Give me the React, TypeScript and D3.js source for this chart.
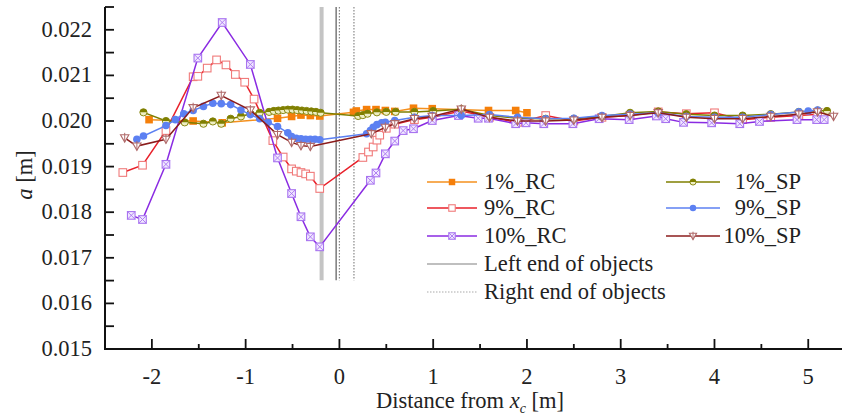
import * as d3 from 'd3';

// ---- data ----
const rc1X = [-2.03, -1.56, -1.25, -0.66, -0.51, -0.41, -0.31, -0.21, 0.15, 0.18, 0.29, 0.39, 0.49, 0.59, 0.79, 0.99, 1.59, 1.88, 2.0];
const rc1Y = [0.02003, 0.02, 0.01996, 0.02006, 0.0201, 0.02013, 0.02012, 0.02011, 0.02019, 0.02022, 0.02025, 0.02025, 0.02023, 0.02021, 0.02028, 0.02027, 0.02023, 0.02023, 0.02018];

const rc9X = [-2.31, -2.1, -1.85, -1.56, -1.51, -1.41, -1.31, -1.21, -1.11, -1.01, -0.91, -0.71, -0.6, -0.51, -0.46, -0.41, -0.36, -0.31, -0.21,
  0.25, 0.31, 0.36, 0.4, 0.43, 0.5, 0.59, 0.8, 0.99, 1.3, 1.6, 1.9, 2.2, 2.5, 2.8, 3.1, 3.4, 3.7, 4.0, 4.3, 4.6, 4.9, 5.1];
const rc9Y = [0.01887, 0.01903, 0.01979, 0.02097, 0.02098, 0.02116, 0.02134, 0.02123, 0.02102, 0.02085, 0.02048, 0.01957, 0.01921, 0.01895, 0.0189, 0.01887, 0.01884, 0.01879, 0.01852,
  0.0192, 0.01932, 0.01943, 0.01958, 0.01969, 0.01984, 0.01993, 0.02003, 0.02008, 0.02022, 0.02008, 0.01997, 0.02012, 0.02, 0.02008, 0.02012, 0.0202, 0.02016, 0.02018, 0.02003, 0.02008, 0.02012, 0.02015];

const rc10X = [-2.22, -2.1, -1.85, -1.51, -1.25, -0.95, -0.66, -0.51, -0.41, -0.31, -0.21,
  0.33, 0.39, 0.49, 0.59, 0.68, 0.79, 0.99, 1.27, 1.48, 1.59, 1.88, 1.99, 2.18, 2.49, 2.77, 3.09, 3.38, 3.48, 3.67, 3.97, 4.27, 4.48, 4.88, 5.09, 5.17];
const rc10Y = [0.01793, 0.01784, 0.01905, 0.02138, 0.02216, 0.02124, 0.01919, 0.01841, 0.0179, 0.01746, 0.01724,
  0.0187, 0.01886, 0.01928, 0.01956, 0.01979, 0.01983, 0.02001, 0.02012, 0.02006, 0.02006, 0.01994, 0.01996, 0.01994, 0.01994, 0.02005, 0.02003, 0.02011, 0.02005, 0.01997, 0.01996, 0.01994, 0.01999, 0.02003, 0.02003, 0.02003];

const sp1X = [-2.09, -1.85, -1.65, -1.45, -1.35, -1.26, -1.16, -1.05, -0.95, -0.85, -0.75, -0.7, -0.65, -0.6, -0.55, -0.5, -0.45, -0.4, -0.35, -0.3, -0.25, -0.2,
  0.2, 0.25, 0.3, 0.4, 0.5, 0.6, 0.8, 1.0, 1.3, 1.6, 1.9, 2.2, 2.5, 2.8, 3.1, 3.4, 3.7, 4.0, 4.3, 4.6, 4.9, 5.1, 5.2];
const sp1Y = [0.02019, 0.02, 0.01997, 0.01994, 0.01999, 0.01994, 0.02005, 0.0201, 0.02016, 0.02018, 0.0202, 0.02022, 0.02023, 0.02024, 0.02025, 0.02025, 0.02024, 0.02023, 0.02022, 0.02021, 0.0202, 0.02018,
  0.02011, 0.02013, 0.02016, 0.02019, 0.0202, 0.0202, 0.0202, 0.02022, 0.02026, 0.02012, 0.02006, 0.02005, 0.02005, 0.0201, 0.02018, 0.02021, 0.02015, 0.02012, 0.02012, 0.02015, 0.0202, 0.02023, 0.02022];

const sp9X = [-2.16, -2.09, -1.85, -1.75, -1.66, -1.56, -1.45, -1.35, -1.26, -1.16, -1.05, -0.95, -0.85, -0.76, -0.66, -0.55, -0.51, -0.46, -0.41, -0.36, -0.31, -0.26, -0.21,
  0.29, 0.33, 0.36, 0.4, 0.45, 0.49, 0.59, 0.8, 0.99, 1.3, 1.6, 1.9, 2.2, 2.5, 2.8, 3.1, 3.4, 3.7, 4.0, 4.3, 4.6, 4.9, 5.0, 5.1];
const sp9Y = [0.0196, 0.01967, 0.0199, 0.02003, 0.02016, 0.02023, 0.02032, 0.02039, 0.02038, 0.02036, 0.02024, 0.02014, 0.02005, 0.01997, 0.01988, 0.01974, 0.01966, 0.01962, 0.01961, 0.0196, 0.0196, 0.0196, 0.01959,
  0.01972, 0.01979, 0.01986, 0.01992, 0.01996, 0.01997, 0.02001, 0.02008, 0.02012, 0.02012, 0.02014, 0.02008, 0.02005, 0.02006, 0.02012, 0.02015, 0.02018, 0.0201, 0.02008, 0.02008, 0.02014, 0.0202, 0.02022, 0.02024];

const sp10X = [-2.29, -2.16, -1.85, -1.56, -1.26, -0.95, -0.66, -0.51, -0.41, -0.31,
  0.34, 0.49, 0.59, 0.8, 0.99, 1.3, 1.6, 1.9, 2.2, 2.5, 2.8, 3.1, 3.4, 3.7, 4.0, 4.3, 4.6, 4.9, 5.1, 5.27];
const sp10Y = [0.01963, 0.01945, 0.0196, 0.02029, 0.02056, 0.02024, 0.0197, 0.01953, 0.01946, 0.01944,
  0.01972, 0.01986, 0.01994, 0.02005, 0.0201, 0.02026, 0.02008, 0.02, 0.02, 0.02002, 0.02008, 0.02012, 0.02018, 0.02008, 0.02005, 0.02005, 0.0201, 0.02015, 0.0202, 0.0201];

const seriesNames = ['1%_RC', '9%_RC', '10%_RC', '1%_SP', '9%_SP', '10%_SP'];
const leftEnds = [-0.19, -0.035];
const rightEnds = [0.0, 0.155];
const xTicks = [-2, -1, 0, 1, 2, 3, 4, 5];
const yTicks = [0.015, 0.016, 0.017, 0.018, 0.019, 0.02, 0.021, 0.022];

const txtStyle = { fontFamily: "'Liberation Serif'", fontSize: 22.5 };

const styles = [
  { line: '#f5901e', marker: '#f57f0a', kind: 'sqFill' },
  { line: '#e8202a', marker: '#f07a7a', kind: 'sqOpen' },
  { line: '#8a2be2', marker: '#a874f0', kind: 'sqX' },
  { line: '#7f7f00', marker: '#7f7f00', kind: 'circHalf' },
  { line: '#5c80f2', marker: '#5c80f2', kind: 'circFill' },
  { line: '#8b1c1c', marker: '#b06a6a', kind: 'triDown' },
];

const x = d3.scaleLinear().domain([-2.5, 5.36]).range([105, 842]);
const y = d3.scaleLinear().domain([0.015, 0.0225]).range([349, 7]);

function Marker({ kind, color, cx, cy, s = 1 }: { kind: string; color: string; cx: number; cy: number; s?: number }) {
  const h = 3.8 * s;
  if (kind === 'sqFill') return <rect x={cx - h} y={cy - h} width={2 * h} height={2 * h} fill={color} />;
  if (kind === 'sqOpen') return <rect x={cx - h} y={cy - h} width={2 * h} height={2 * h} fill="#fff" stroke={color} strokeWidth={1.1} />;
  if (kind === 'sqX') return (
    <g>
      <rect x={cx - h} y={cy - h} width={2 * h} height={2 * h} fill="#f1e8ff" stroke={color} strokeWidth={1.1} />
      <path d={`M${cx - h},${cy - h}L${cx + h},${cy + h}M${cx - h},${cy + h}L${cx + h},${cy - h}`} stroke={color} strokeWidth={0.9} />
    </g>
  );
  if (kind === 'circHalf') {
    const r = 3.6 * s;
    return (
      <g>
        <circle cx={cx} cy={cy} r={r} fill="#eeeec4" stroke={color} strokeWidth={0.9} />
        <path d={`M${cx - r},${cy}A${r},${r} 0 0 1 ${cx + r},${cy}Z`} fill={color} />
      </g>
    );
  }
  if (kind === 'circFill') return <circle cx={cx} cy={cy} r={3.8 * s} fill={color} />;
  const t = 4.2 * s;
  return (
    <g>
      <path d={`M${cx - t},${cy - t * 0.75}L${cx + t},${cy - t * 0.75}L${cx},${cy + t}Z`} fill="#fff" stroke={color} strokeWidth={1.1} />
      <path d={`M${cx},${cy - t * 1.2}L${cx},${cy + t}`} stroke={color} strokeWidth={1} />
    </g>
  );
}

export default function App() {
  const all = [[rc1X, rc1Y], [rc9X, rc9Y], [rc10X, rc10Y], [sp1X, sp1Y], [sp9X, sp9Y], [sp10X, sp10Y]];
  const yTop = y(0.0225), yBot = y(0.01651);
  const minorX = d3.range(-2.5, 5.3, 0.5);
  const minorY = d3.range(0.015, 0.02251, 0.0005);
  const rows = [182, 208, 236];

  return (
    <svg width={844} height={417} style={{ position: 'absolute', left: 0, top: 0, background: '#fff', display: 'block' }}>
      {/* object ends */}
      <line x1={x(leftEnds[0])} x2={x(leftEnds[0])} y1={yTop} y2={yBot} stroke="#c4c4c4" strokeWidth={4} />
      <line x1={x(leftEnds[1])} x2={x(leftEnds[1])} y1={yTop} y2={yBot} stroke="#666" strokeWidth={1.3} />
      {rightEnds.map((v, i) => (
        <line key={i} x1={x(v)} x2={x(v)} y1={yTop} y2={yBot} stroke="#888" strokeWidth={1.2} strokeDasharray="1.5,1.5" />
      ))}

      {/* series */}
      {all.map(([xs, ys], k) => {
        const st = styles[k];
        const pts = xs.map((v, i) => [x(v), y(ys[i])] as [number, number]);
        return (
          <g key={k}>
            <path d={d3.line()(pts) ?? ''} fill="none" stroke={st.line} strokeWidth={1.5} />
            {pts.map(([px, py], i) => <Marker key={i} kind={st.kind} color={st.marker} cx={px} cy={py} />)}
          </g>
        );
      })}

      {/* axes */}
      <path d="M105,7V349H842" fill="none" stroke="#111" strokeWidth={2} />
      {minorX.map((v, i) => {
        const major = Math.abs(v - Math.round(v)) < 1e-6;
        return <line key={i} x1={x(v)} x2={x(v)} y1={349} y2={349 - (major ? 10 : 5)} stroke="#111" strokeWidth={1.8} />;
      })}
      {minorY.map((v, i) => <line key={i} x1={105} x2={114} y1={y(v)} y2={y(v)} stroke="#111" strokeWidth={1.8} />)}
      {xTicks.map(v => <text key={v} x={x(v)} y={384} textAnchor="middle" fill="#222" style={txtStyle}>{String(v)}</text>)}
      {yTicks.map(v => <text key={v} x={92} y={y(v) + 7} textAnchor="end" fill="#222" style={txtStyle}>{d3.format('.3f')(v)}</text>)}

      <text transform="translate(32,175) rotate(-90)" textAnchor="middle" fill="#222" style={txtStyle}>
        <tspan fontStyle="italic">a</tspan> [m]
      </text>
      <text x={470} y={408} textAnchor="middle" fill="#222" style={txtStyle}>
        Distance from <tspan fontStyle="italic">x</tspan><tspan fontStyle="italic" dy={5} style={{ fontSize: 14 }}>c</tspan><tspan dy={-5}> [m]</tspan>
      </text>

      {/* legend */}
      {seriesNames.map((name, k) => {
        const st = styles[k];
        const left = k < 3;
        const x0 = left ? 427 : 666;
        const yy = rows[k % 3];
        return (
          <g key={name}>
            <line x1={x0} x2={x0 + (left ? 50 : 54)} y1={yy} y2={yy} stroke={st.line} strokeWidth={1.5} />
            <Marker kind={st.kind} color={st.marker} cx={x0 + (left ? 25 : 27)} cy={yy} s={0.85} />
            {left
              ? <text x={x0 + 57} y={yy + 7} fill="#222" style={txtStyle}>{name}</text>
              : <text x={801} y={yy + 7} textAnchor="end" fill="#222" style={txtStyle}>{name}</text>}
          </g>
        );
      })}
      <line x1={427} x2={477} y1={264} y2={264} stroke="#aaa" strokeWidth={1.3} />
      <text x={484} y={271} fill="#222" style={txtStyle}>Left end of objects</text>
      <line x1={427} x2={477} y1={292} y2={292} stroke="#aaa" strokeWidth={1.2} strokeDasharray="1.5,1.5" />
      <text x={484} y={299} fill="#222" style={txtStyle}>Right end of objects</text>
    </svg>
  );
}
